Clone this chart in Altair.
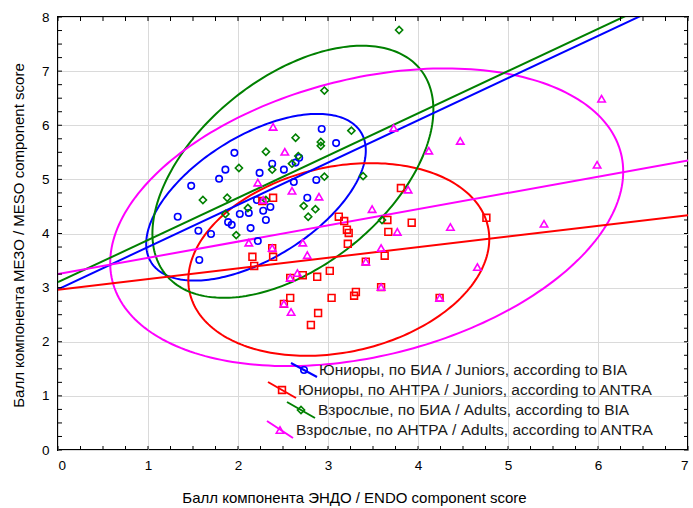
import altair as alt
import pandas as pd
import numpy as np

# ---------------- data ----------------
labels = [
    "Юниоры, по БИА / Juniors, according to BIA",
    "Юниоры, по АНТРА / Juniors, according to ANTRA",
    "Взрослые, по БИА / Adults, according to BIA",
    "Взрослые, по АНТРА / Adults, according to ANTRA",
]
colors = ["#0000FF", "#FF0000", "#008000", "#FF00FF"]
shapes = ["circle", "square", "diamond", "triangle-up"]

# Juniors, BIA (blue circles)
jb_x = [2.93, 3.09, 1.96, 1.86, 1.79, 1.48, 2.24, 2.38, 2.51, 2.68, 2.64, 2.62, 2.87, 2.77,
        2.21, 2.28, 2.36, 2.31, 2.12, 2.02, 1.89, 1.93, 1.33, 2.14, 1.56, 1.70, 2.22, 1.57]
jb_y = [5.93, 5.67, 5.49, 5.18, 5.01, 4.88, 5.12, 5.29, 5.18, 5.40, 5.31, 4.95, 4.99, 4.66,
        4.62, 4.42, 4.49, 4.25, 4.38, 4.36, 4.21, 4.16, 4.31, 4.10, 4.05, 3.99, 3.86, 3.51]

# Juniors, ANTRA (red squares)
ja_x = [2.39, 2.27, 3.12, 3.18, 3.21, 3.23, 3.22, 3.81, 3.66, 3.67, 3.93, 4.76, 3.42, 3.63,
        3.02, 3.04, 3.29, 3.31, 3.59, 4.24, 2.89, 2.81, 2.16, 2.18, 2.38, 2.39, 2.58, 2.72,
        2.88, 2.58, 2.51]
ja_y = [4.66, 4.60, 4.31, 4.23, 4.07, 4.01, 3.81, 4.84, 4.25, 4.03, 4.20, 4.29, 3.48, 3.59,
        3.31, 2.81, 2.85, 2.92, 3.01, 2.81, 2.53, 2.31, 3.57, 3.40, 3.73, 3.57, 3.18, 3.23,
        3.20, 2.81, 2.70]

# Adults, BIA (green diamonds)
ab_x = [3.79, 2.96, 3.26, 2.64, 2.92, 2.92, 2.31, 2.67, 2.60, 2.01, 2.38, 2.96, 3.39, 1.61,
        1.88, 1.86, 2.11, 2.31, 2.73, 2.86, 2.78, 1.98, 3.60]
ab_y = [7.76, 6.64, 5.90, 5.77, 5.69, 5.62, 5.51, 5.43, 5.29, 5.21, 5.18, 5.05, 5.06, 4.62,
        4.66, 4.36, 4.47, 4.62, 4.51, 4.45, 4.31, 3.97, 4.25]

# Adults, ANTRA (magenta triangles)
aa_x = [2.39, 2.52, 2.22, 2.60, 2.90, 2.28, 3.73, 4.47, 4.12, 6.04, 5.99, 3.89, 3.49, 4.36,
        5.40, 3.77, 3.59, 4.66, 3.59, 4.24, 3.42, 2.12, 2.72, 2.77, 2.66, 2.58, 2.51, 2.59, 2.38]
aa_y = [5.97, 5.51, 4.94, 4.79, 4.68, 4.62, 5.95, 5.71, 5.53, 6.49, 5.27, 4.81, 4.45, 4.12,
        4.18, 4.03, 3.73, 3.38, 3.01, 2.81, 3.48, 3.83, 3.83, 3.60, 3.27, 3.18, 2.70, 2.55, 3.73]

# regression lines (intercept, slope)
reg_intercept = [2.97, 2.96, 3.10, 3.25]
reg_slope = [0.78, 0.197, 0.78, 0.30]

# confidence ellipses: centre, half-extents, correlation
ell_cx = [2.20, 3.12, 2.61, 3.43]
ell_cy = [4.67, 3.52, 5.14, 4.30]
ell_sx = [1.22, 1.672, 1.561, 2.85]
ell_sy = [1.54, 1.78, 2.329, 2.75]
ell_r = [0.56, 0.214, 0.492, 0.307]

x_ticks = [0, 1, 2, 3, 4, 5, 6, 7]
y_ticks = [0, 1, 2, 3, 4, 5, 6, 7, 8]

# ---------------- build tables ----------------
xs = [jb_x, ja_x, ab_x, aa_x]
ys = [jb_y, ja_y, ab_y, aa_y]
pts = pd.concat([pd.DataFrame({"x": xs[i], "y": ys[i], "g": labels[i]}) for i in range(4)])

reg = pd.concat([
    pd.DataFrame({"x": [0.0, 7.0],
                  "y": [reg_intercept[i], reg_intercept[i] + 7.0 * reg_slope[i]],
                  "g": labels[i]}) for i in range(4)])

t = np.linspace(0, 2 * np.pi, 241)
ell_frames = []
for i in range(4):
    ex = ell_cx[i] + ell_sx[i] * np.cos(t)
    ey = ell_cy[i] + ell_sy[i] * (ell_r[i] * np.cos(t) + np.sqrt(1 - ell_r[i] ** 2) * np.sin(t))
    ell_frames.append(pd.DataFrame({"x": ex, "y": ey, "g": labels[i], "k": np.arange(len(t))}))
ell = pd.concat(ell_frames)

W, H = 630, 433
FONT = "Liberation Sans"

xscale = alt.Scale(domain=[0, 7], nice=False, zero=False)
yscale = alt.Scale(domain=[0, 8], nice=False, zero=False)
cscale = alt.Scale(domain=labels, range=colors)
sscale = alt.Scale(domain=labels, range=shapes)
zscale = alt.Scale(domain=labels, range=[42, 55, 50, 38])

xaxis = alt.Axis(values=x_ticks, format="d", title="Балл компонента ЭНДО / ENDO component score",
                 titleX=296, titleY=47, titleBaseline="middle", labelPadding=8,
                 titleFontWeight="normal", titleFont=FONT, titleFontSize=15,
                 labelFont=FONT, labelFontSize=13.5, labelColor="black", titleColor="black",
                 grid=True, gridColor="#DADADA", gridWidth=1, domain=False, ticks=False)
yaxis = alt.Axis(values=y_ticks, format="d", title="Балл компонента МЕЗО / MESO component score",
                 titleX=-40, titleY=218, titleBaseline="middle", titleAngle=-90, labelPadding=9,
                 titleFontWeight="normal", titleFont=FONT, titleFontSize=15,
                 labelFont=FONT, labelFontSize=13.5, labelColor="black", titleColor="black",
                 grid=True, gridColor="#DADADA", gridWidth=1, domain=False, ticks=False)

base_x = alt.X("x:Q", scale=xscale, axis=xaxis)
base_y = alt.Y("y:Q", scale=yscale, axis=yaxis)

ellipses = alt.Chart(ell).mark_line(strokeWidth=2, clip=True).encode(
    x=base_x, y=base_y,
    color=alt.Color("g:N", scale=cscale, legend=None),
    detail="g:N", order="k:Q")

lines = alt.Chart(reg).mark_line(strokeWidth=2, clip=True).encode(
    x=base_x, y=base_y,
    color=alt.Color("g:N", scale=cscale, legend=None),
    detail="g:N")

points = alt.Chart(pts).mark_point(filled=False, strokeWidth=1.6, opacity=1).encode(
    x=base_x, y=base_y,
    color=alt.Color("g:N", scale=cscale, legend=None),
    shape=alt.Shape("g:N", scale=sscale, legend=None),
    size=alt.Size("g:N", scale=zscale, legend=None))

# inward minor ticks on all four sides
xt = pd.DataFrame({"tx": np.arange(0, 7.001, 0.25)})
yt = pd.DataFrame({"ty": np.arange(0, 8.001, 0.25)})
tick_b = alt.Chart(xt).mark_rule(color="black", strokeWidth=1).encode(
    x=alt.X("tx:Q", scale=xscale), y=alt.value(H), y2=alt.value(H - 4))
tick_t = alt.Chart(xt).mark_rule(color="black", strokeWidth=1).encode(
    x=alt.X("tx:Q", scale=xscale), y=alt.value(0), y2=alt.value(4))
tick_l = alt.Chart(yt).mark_rule(color="black", strokeWidth=1).encode(
    y=alt.Y("ty:Q", scale=yscale), x=alt.value(0), x2=alt.value(4))
tick_r = alt.Chart(yt).mark_rule(color="black", strokeWidth=1).encode(
    y=alt.Y("ty:Q", scale=yscale), x=alt.value(W), x2=alt.value(W - 4))

# hand-placed legend (pixel positions inside plot area)
leg = pd.DataFrame({
    "g": labels,
    "x1": [233, 210, 229, 209], "x2": [259, 238, 257, 235],
    "y1": [346, 365, 385, 404], "y2": [360, 381, 401, 421],
    "mx": [246, 224, 243, 222], "my": [353, 373, 393, 413],
    "tx": [261, 240, 260, 238],
})
leg_lines = alt.Chart(leg).mark_rule(strokeWidth=2).encode(
    x=alt.X("x1:Q", scale=None), x2="x2:Q",
    y=alt.Y("y1:Q", scale=None), y2="y2:Q",
    color=alt.Color("g:N", scale=cscale, legend=None))
leg_pts = alt.Chart(leg).mark_point(filled=False, strokeWidth=1.6, opacity=1).encode(
    x=alt.X("mx:Q", scale=None), y=alt.Y("my:Q", scale=None),
    color=alt.Color("g:N", scale=cscale, legend=None),
    shape=alt.Shape("g:N", scale=sscale, legend=None),
    size=alt.Size("g:N", scale=zscale, legend=None))
leg_text = alt.Chart(leg).mark_text(align="left", baseline="middle", font=FONT,
                                    fontSize=15.5, color="#1a1a1a").encode(
    x=alt.X("tx:Q", scale=None), y=alt.Y("my:Q", scale=None), text="g:N")

chart = alt.layer(
    ellipses, lines, points, tick_b, tick_t, tick_l, tick_r, leg_lines, leg_pts, leg_text
).properties(
    width=W, height=H,
    background="white",
    autosize=alt.AutoSizeParams(type="none"),
    padding={"left": 58, "top": 17, "right": 5, "bottom": 58},
).configure_view(
    stroke="black", strokeWidth=2
)

chart.save("out.html", embed_options={"renderer": "svg", "actions": False})
